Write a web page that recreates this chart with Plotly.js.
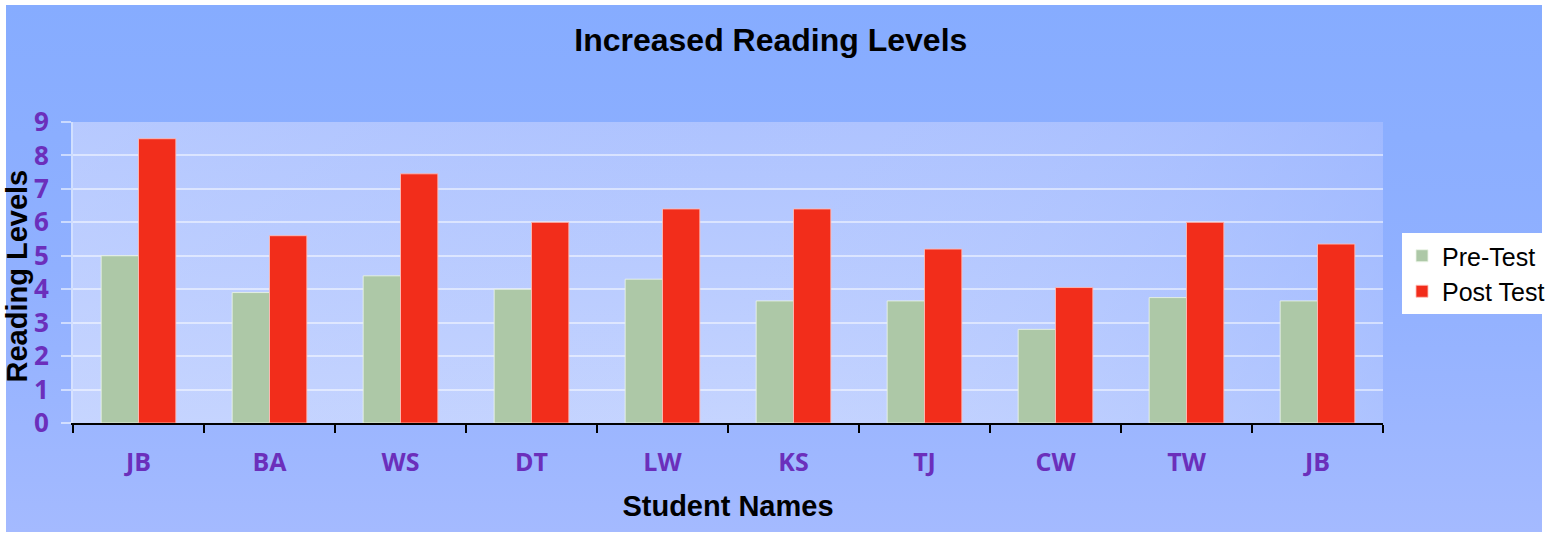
<!DOCTYPE html>
<html>
<head>
<meta charset="utf-8">
<script src="https://cdn.plot.ly/plotly-3.0.1.min.js"></script>
<style>html,body{margin:0;padding:0;background:#fff;overflow:hidden;}#chart{width:1554px;height:534px;}</style>
</head>
<body>
<div id="chart"></div>
<script>
// ---- data ----
const students = ['JB', 'BA', 'WS', 'DT', 'LW', 'KS', 'TJ', 'CW', 'TW', 'JB'];
const preTest  = [5.0, 3.9, 4.4, 4.0, 4.3, 3.65, 3.65, 2.8, 3.75, 3.65];
const postTest = [8.5, 5.6, 7.45, 6.0, 6.4, 6.4, 5.2, 4.05, 6.0, 5.35];
const yTickVals = [0, 1, 2, 3, 4, 5, 6, 7, 8, 9];
const seriesNames = ['Pre-Test', 'Post Test'];

// ---- styling ----
const purple = '#6b2fbb';
const xIdx = students.map((_, i) => i);

function svgUri(svg) { return 'data:image/svg+xml;charset=utf-8,' + encodeURIComponent(svg); }

const paperBg = svgUri(
  "<svg xmlns='http://www.w3.org/2000/svg' viewBox='0 0 100 100' preserveAspectRatio='none' width='100' height='100'>" +
  "<defs><linearGradient id='g' x1='0' y1='0' x2='0' y2='1'>" +
  "<stop offset='0' stop-color='#86acff'/><stop offset='0.5' stop-color='#90b0ff'/><stop offset='1' stop-color='#a4baff'/>" +
  "</linearGradient></defs><rect width='100' height='100' fill='url(#g)'/></svg>");

const plotBg = svgUri(
  "<svg xmlns='http://www.w3.org/2000/svg' viewBox='0 0 100 100' preserveAspectRatio='none' width='100' height='100'>" +
  "<defs><linearGradient id='v' x1='0' y1='0' x2='0' y2='1'>" +
  "<stop offset='0' stop-color='#aec3ff'/><stop offset='1' stop-color='#c5d4ff'/></linearGradient>" +
  "<linearGradient id='h' x1='0' y1='0' x2='1' y2='0'>" +
  "<stop offset='0' stop-color='#c8d6ff' stop-opacity='0.35'/><stop offset='0.5' stop-color='#b8caff' stop-opacity='0'/>" +
  "<stop offset='1' stop-color='#8fadff' stop-opacity='0.45'/></linearGradient></defs>" +
  "<rect width='100' height='100' fill='url(#v)'/><rect width='100' height='100' fill='url(#h)'/></svg>");

const traces = [
  {
    type: 'bar', name: seriesNames[0], x: xIdx, y: preTest,
    marker: { color: '#adc8a7', line: { color: 'rgba(235,245,230,0.85)', width: 1 } },
    hoverinfo: 'y'
  },
  {
    type: 'bar', name: seriesNames[1], x: xIdx, y: postTest,
    marker: { color: '#f22d1b', line: { color: 'rgba(255,190,185,0.85)', width: 1 } },
    hoverinfo: 'y'
  }
];

const layout = {
  width: 1554, height: 534,
  margin: { l: 73, r: 171, t: 122, b: 111, pad: 0, autoexpand: false },
  paper_bgcolor: '#ffffff',
  plot_bgcolor: 'rgba(0,0,0,0)',
  barmode: 'group',
  bargap: 0.43,
  bargroupgap: 0,
  title: {
    text: 'Increased Reading Levels',
    font: { family: 'Liberation Sans, Arial, sans-serif', size: 32, color: '#000', weight: 'bold' },
    x: 0.496, xref: 'container', xanchor: 'center',
    y: 0.925, yref: 'container', yanchor: 'middle'
  },
  xaxis: {
    range: [-0.5, students.length - 0.5],
    tickmode: 'array', tickvals: xIdx, ticktext: students,
    ticks: '', ticklabelstandoff: 16,
    tickfont: { family: 'Open Sans, sans-serif', size: 25, color: purple, weight: 'bold' },
    minor: { tickmode: 'linear', tick0: -0.5, dtick: 1, ticks: 'outside', ticklen: 8, tickwidth: 2, tickcolor: '#000', showgrid: false },
    showline: true, linecolor: '#000', linewidth: 2,
    showgrid: false, zeroline: false, fixedrange: true, automargin: false,
    title: {
      text: 'Student Names', standoff: 19,
      font: { family: 'Liberation Sans, Arial, sans-serif', size: 29, color: '#000', weight: 'bold' }
    }
  },
  yaxis: {
    range: [0, 9], tickmode: 'array', tickvals: yTickVals,
    ticks: 'outside', ticklen: 10, tickwidth: 2, tickcolor: 'rgba(255,255,255,0.55)',
    ticklabelstandoff: 7,
    tickfont: { family: 'Open Sans, sans-serif', size: 26, color: purple, weight: 'bold' },
    showline: true, linecolor: 'rgba(255,255,255,0.6)', linewidth: 2,
    showgrid: true, gridcolor: 'rgba(255,255,255,0.5)', gridwidth: 2,
    zeroline: false, fixedrange: true, automargin: false
  },
  legend: {
    xref: 'container', yref: 'container',
    x: 1402 / 1554, xanchor: 'left', y: 1 - 233 / 534, yanchor: 'top',
    bgcolor: '#ffffff', borderwidth: 0,
    font: { family: 'Liberation Sans, Arial, sans-serif', size: 25, color: '#000' }
  },
  annotations: [
    {
      text: 'Reading Levels', textangle: -90, showarrow: false,
      xref: 'paper', yref: 'paper', x: (17 - 73) / 1310, y: 0.4867, xanchor: 'center', yanchor: 'middle',
      font: { family: 'Liberation Sans, Arial, sans-serif', size: 29, color: '#000', weight: 'bold' }
    }
  ],
  images: [
    { source: paperBg, xref: 'paper', yref: 'paper', x: -0.05115, y: 1.3887, sizex: 1.17252, sizey: 1.75083,
      xanchor: 'left', yanchor: 'top', sizing: 'stretch', layer: 'below' },
    { source: plotBg, xref: 'paper', yref: 'paper', x: 0, y: 1, sizex: 1, sizey: 1,
      xanchor: 'left', yanchor: 'top', sizing: 'stretch', layer: 'below' }
  ],
  showlegend: true
};

Plotly.newPlot('chart', traces, layout, { displayModeBar: false, staticPlot: true });
</script>
</body>
</html>
